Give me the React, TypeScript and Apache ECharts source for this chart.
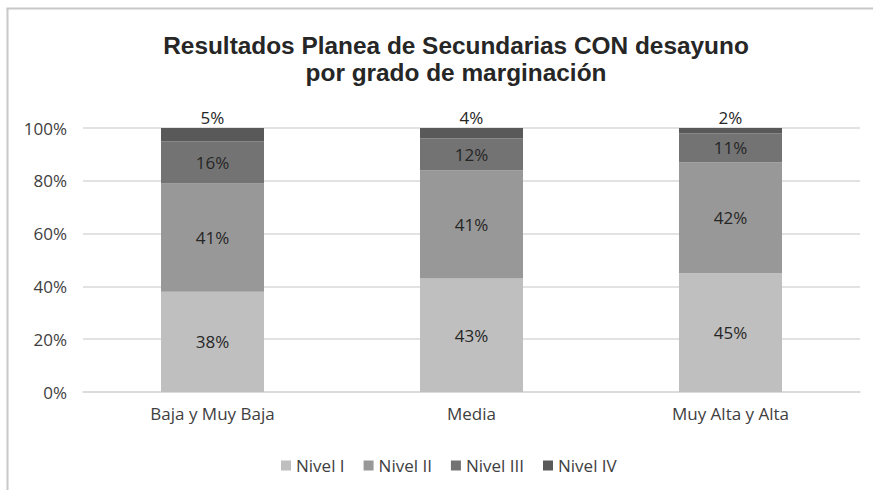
import React, { useEffect, useRef } from "react";
import * as echarts from "echarts";

const categories = ["Baja y Muy Baja", "Media", "Muy Alta y Alta"];
const nivelI = [38, 43, 45];
const nivelII = [41, 41, 42];
const nivelIII = [16, 12, 11];
const nivelIV = [5, 4, 2];
const seriesNames = ["Nivel I", "Nivel II", "Nivel III", "Nivel IV"];
const seriesColors = ["#bfbfbf", "#989898", "#737373", "#595959"];

const FONT = "'Open Sans', 'DejaVu Sans', sans-serif";

export default function App() {
  const ref = useRef<HTMLDivElement>(null);
  useEffect(() => {
    if (!ref.current) return;
    const chart = echarts.init(ref.current, null, { renderer: "svg" });
    const data = [nivelI, nivelII, nivelIII, nivelIV];
    chart.setOption({
      animation: false,
      backgroundColor: "#ffffff",
      title: {
        text: "Resultados Planea de Secundarias CON desayuno\npor grado de marginación",
        left: 451,
        top: 27,
        textAlign: "center",
        textStyle: {
          fontFamily: "'Liberation Sans', Arial, sans-serif",
          fontWeight: "bold",
          fontSize: 24.4,
          lineHeight: 27,
          color: "#262626",
        },
      },
      graphic: [
        { type: "line", shape: { x1: 6.5, y1: 8.5, x2: 873, y2: 8.5 }, style: { stroke: "#c8c8c8", lineWidth: 2 } },
        { type: "line", shape: { x1: 7.5, y1: 8, x2: 7.5, y2: 490 }, style: { stroke: "#c8c8c8", lineWidth: 2 } },
      ],
      legend: {
        data: seriesNames,
        left: 276,
        top: 452,
        itemWidth: 10,
        itemHeight: 10,
        itemGap: 19,
        icon: "rect",
        textStyle: { fontFamily: FONT, fontSize: 17, color: "#404040" },
      },
      grid: { left: 83, right: 13, top: 128, bottom: 98 },
      xAxis: {
        type: "category",
        data: categories,
        axisTick: { show: false },
        axisLine: { lineStyle: { color: "#d9d9d9", width: 1.5 } },
        axisLabel: { fontFamily: FONT, fontSize: 17, color: "#404040", margin: 13 },
      },
      yAxis: {
        type: "value",
        min: 0,
        max: 100,
        interval: 20,
        axisLabel: { formatter: "{value}%", fontFamily: FONT, fontSize: 17, color: "#404040", margin: 16 },
        splitLine: { lineStyle: { color: "#d9d9d9", width: 1.5 } },
        axisLine: { show: false },
        axisTick: { show: false },
      },
      series: seriesNames.map((name, i) => ({
        name,
        type: "bar",
        stack: "total",
        barWidth: 103,
        data: data[i],
        itemStyle: { color: seriesColors[i] },
        label: {
          show: true,
          position: i === 3 ? "top" : "inside",
          distance: 2,
          formatter: "{c}%",
          fontFamily: FONT,
          fontSize: 17,
          color: "#262626",
        },
      })),
    });
    return () => chart.dispose();
  }, []);
  return <div ref={ref} style={{ position: "fixed", left: 0, top: 0, width: 873, height: 490 }} />;
}
